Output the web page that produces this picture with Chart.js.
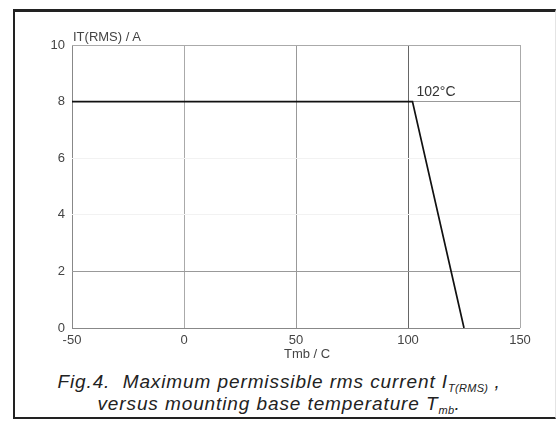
<!DOCTYPE html>
<html>
<head>
<meta charset="utf-8">
<script src="https://cdn.jsdelivr.net/npm/chart.js@4"></script>
<style>
  body { margin: 0; background: #fff; width: 558px; height: 423px; overflow: hidden; position: relative;
         font-family: "Liberation Sans", Arial, sans-serif; color: #333; }
  #frame { position: absolute; left: 13px; top: 9px; width: 543px; height: 410px;
           border-left: 2px solid #222; border-top: 3px solid #222; border-bottom: 2px solid #222;
           border-right: 1px solid #e4e4e4; box-sizing: border-box; }
  #chart { position: absolute; left: 0; top: 0; }
  .lbl { position: absolute; font-size: 13px; color: #444; white-space: nowrap; }
  #caption { position: absolute; left: 0; top: 371px; width: 558px; text-align: center;
             font-style: italic; font-size: 19px; letter-spacing: 0.9px; line-height: 22px; color: #222; }
  #caption sub { font-size: 11px; letter-spacing: 0.3px; vertical-align: -4px; line-height: 0; }
</style>
</head>
<body>
<div id="frame"></div>
<canvas id="chart" width="558" height="360"></canvas>
<div class="lbl" style="left:73px; top:29px;">IT(RMS) / A</div>
<div class="lbl" style="left:284px; top:346px;">Tmb / C</div>
<div id="caption">Fig.4.&nbsp; Maximum permissible rms current I<sub>T(RMS)</sub> ,<br>versus mounting base temperature T<sub>mb</sub>.</div>
<script>
// derating curve: I_T(RMS) against mounting base temperature
const tempC = [-50, 102, 125];
const currentA = [8, 8, 0];
const kneeTemp = 102;
const kneeLabel = "102°C";

const X_GRID = { "-50": "#888", "0": "#aaa", "50": "#999", "100": "#666", "150": "#aaa" };
const Y_GRID = { "0": "#888", "2": "#999", "4": "#f2f2f2", "6": "#f2f2f2", "8": "#999", "10": "#aaa" };

const kneeLabelPlugin = {
  id: "kneeLabel",
  afterDatasetsDraw(chart) {
    const { ctx, scales } = chart;
    ctx.save();
    ctx.font = "14px 'Liberation Sans', Arial, sans-serif";
    ctx.fillStyle = "#333";
    ctx.textBaseline = "alphabetic";
    ctx.fillText(kneeLabel, scales.x.getPixelForValue(kneeTemp) + 4, scales.y.getPixelForValue(8) - 6);
    ctx.restore();
  },
};

new Chart(document.getElementById("chart").getContext("2d"), {
  type: "line",
  data: {
    datasets: [
      {
        data: tempC.map((t, i) => ({ x: t, y: currentA[i] })),
        borderColor: "#111",
        borderWidth: 1.7,
        pointRadius: 0,
        tension: 0,
      },
    ],
  },
  options: {
    responsive: false,
    devicePixelRatio: 1,
    animation: false,
    layout: { padding: { top: 45, right: 38, left: 0, bottom: 0 } },
    plugins: { legend: { display: false }, tooltip: { enabled: false } },
    scales: {
      x: {
        type: "linear",
        min: -50,
        max: 150,
        afterFit: (s) => { s.height = 32; },
        ticks: { stepSize: 50, padding: 5, color: "#444", font: { size: 13, family: "'Liberation Sans', Arial" } },
        grid: { color: (c) => X_GRID[String(c.tick.value)] || "#ccc", drawTicks: false, lineWidth: 1 },
        border: { display: false },
      },
      y: {
        min: 0,
        max: 10,
        afterFit: (s) => { s.width = 72; },
        ticks: { stepSize: 2, padding: 7, color: "#444", font: { size: 13, family: "'Liberation Sans', Arial" } },
        grid: { color: (c) => Y_GRID[String(c.tick.value)] || "#ccc", drawTicks: false, lineWidth: 1 },
        border: { display: false },
      },
    },
  },
  plugins: [kneeLabelPlugin],
});
</script>
</body>
</html>
